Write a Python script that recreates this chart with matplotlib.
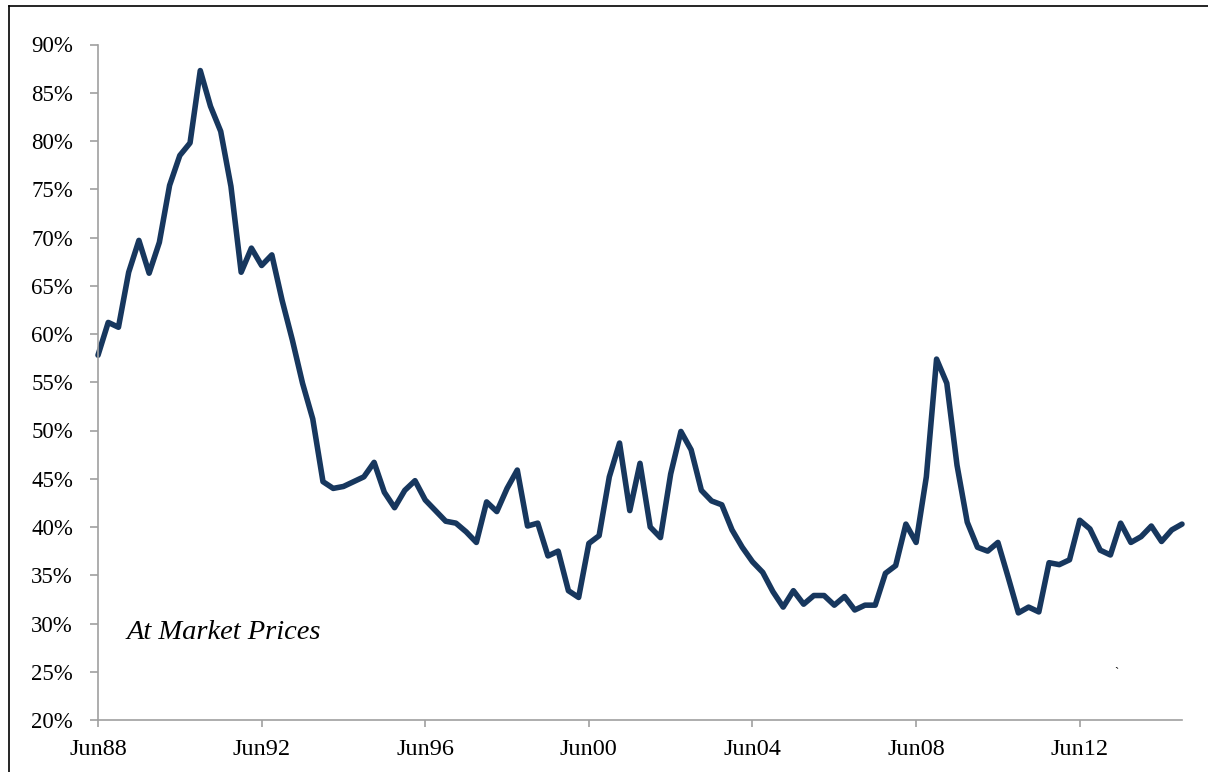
import numpy as np;
import matplotlib;
matplotlib.use('Agg');
import matplotlib.pyplot as plt;
from matplotlib.ticker import FixedLocator, FuncFormatter;
from matplotlib.lines import Line2D;

FONT_YTICK = 16.5;
FONT_XTICK = 17.5;
FONT_NOTE = 20.5;

WDTH = 1208;
HGHT = 772;

LINE_COLOR = '#17375e';
AXIS_COLOR = '#a0a0a0';

# quarterly share, Jun88 .. Dec14 (percent)
share = [
57.8, 61.2, 60.7, 66.4, 69.7, 66.3, 69.5, 75.4, 78.5, 79.8,
87.3, 83.6, 81.0, 75.3, 66.4, 68.9, 67.1, 68.2, 63.5, 59.4,
54.9, 51.2, 44.7, 44.0, 44.2, 44.7, 45.2, 46.7, 43.6, 42.0,
43.8, 44.8, 42.8, 41.7, 40.6, 40.4, 39.5, 38.4, 42.6, 41.6,
44.0, 45.9, 40.1, 40.4, 37.0, 37.5, 33.4, 32.7, 38.3, 39.1,
45.2, 48.7, 41.7, 46.6, 40.0, 38.9, 45.5, 49.9, 48.0, 43.8,
42.7, 42.3, 39.7, 37.9, 36.4, 35.3, 33.3, 31.7, 33.4, 32.0,
32.9, 32.9, 31.9, 32.8, 31.4, 31.9, 31.9, 35.2, 36.0, 40.3,
38.4, 45.2, 57.4, 54.9, 46.4, 40.5, 37.9, 37.5, 38.4, 34.8,
31.1, 31.7, 31.2, 36.3, 36.1, 36.6, 40.7, 39.8, 37.6, 37.1,
40.4, 38.4, 39.0, 40.1, 38.5, 39.7, 40.3];

tick_pos = [0, 16, 32, 48, 64, 80, 96];
tick_lbl = ['Jun88', 'Jun92', 'Jun96', 'Jun00', 'Jun04', 'Jun08', 'Jun12'];
y_ticks = [20, 25, 30, 35, 40, 45, 50, 55, 60, 65, 70, 75, 80, 85, 90];

plt.rcParams['font.family'] = ['Liberation Serif', 'DejaVu Serif'];

fig = plt.figure(figsize=(WDTH/100.0, HGHT/100.0), dpi=100);

# outer frame (left + top visible)
fig.add_artist(Line2D([9.0/WDTH, 9.0/WDTH], [0, 1 - 6.0/HGHT], transform=fig.transFigure, color='black', lw=1.2));
fig.add_artist(Line2D([9.0/WDTH, 1], [1 - 6.0/HGHT, 1 - 6.0/HGHT], transform=fig.transFigure, color='black', lw=1.2));

L = 98.0; R = 1182.0; T = 44.5; B = 720.0;
ax = fig.add_axes([L/WDTH, 1 - B/HGHT, (R - L)/WDTH, (B - T)/HGHT]);

_X_ = np.arange(len(share));
ax.plot(_X_, share, color=LINE_COLOR, lw=4.0, solid_joinstyle='round', solid_capstyle='round', clip_on=False);

ax.set_xlim(0, len(share) - 1);
ax.set_ylim(20, 90);

ax.xaxis.set_major_locator(FixedLocator(tick_pos));
ax.set_xticklabels(tick_lbl);
ax.yaxis.set_major_locator(FixedLocator(y_ticks));
ax.yaxis.set_major_formatter(FuncFormatter(lambda v, p: '%d%%' % v));

for s in ['top', 'right']:
    ax.spines[s].set_visible(False);
for s in ['left', 'bottom']:
    ax.spines[s].set_color(AXIS_COLOR);
    ax.spines[s].set_linewidth(1.2);

ax.tick_params(axis='y', direction='out', length=6, width=1.2, color=AXIS_COLOR, labelsize=FONT_YTICK, pad=12);
ax.tick_params(axis='x', direction='out', length=5, width=1.2, color=AXIS_COLOR, labelsize=FONT_XTICK, pad=9);

ax.text(2.8, 29.1, 'At Market Prices', style='italic', fontsize=FONT_NOTE, ha='left', va='center');
ax.text(99.6, 24.9, '`', fontsize=9, ha='center', va='center');

plt.savefig('out.png', dpi=100);
